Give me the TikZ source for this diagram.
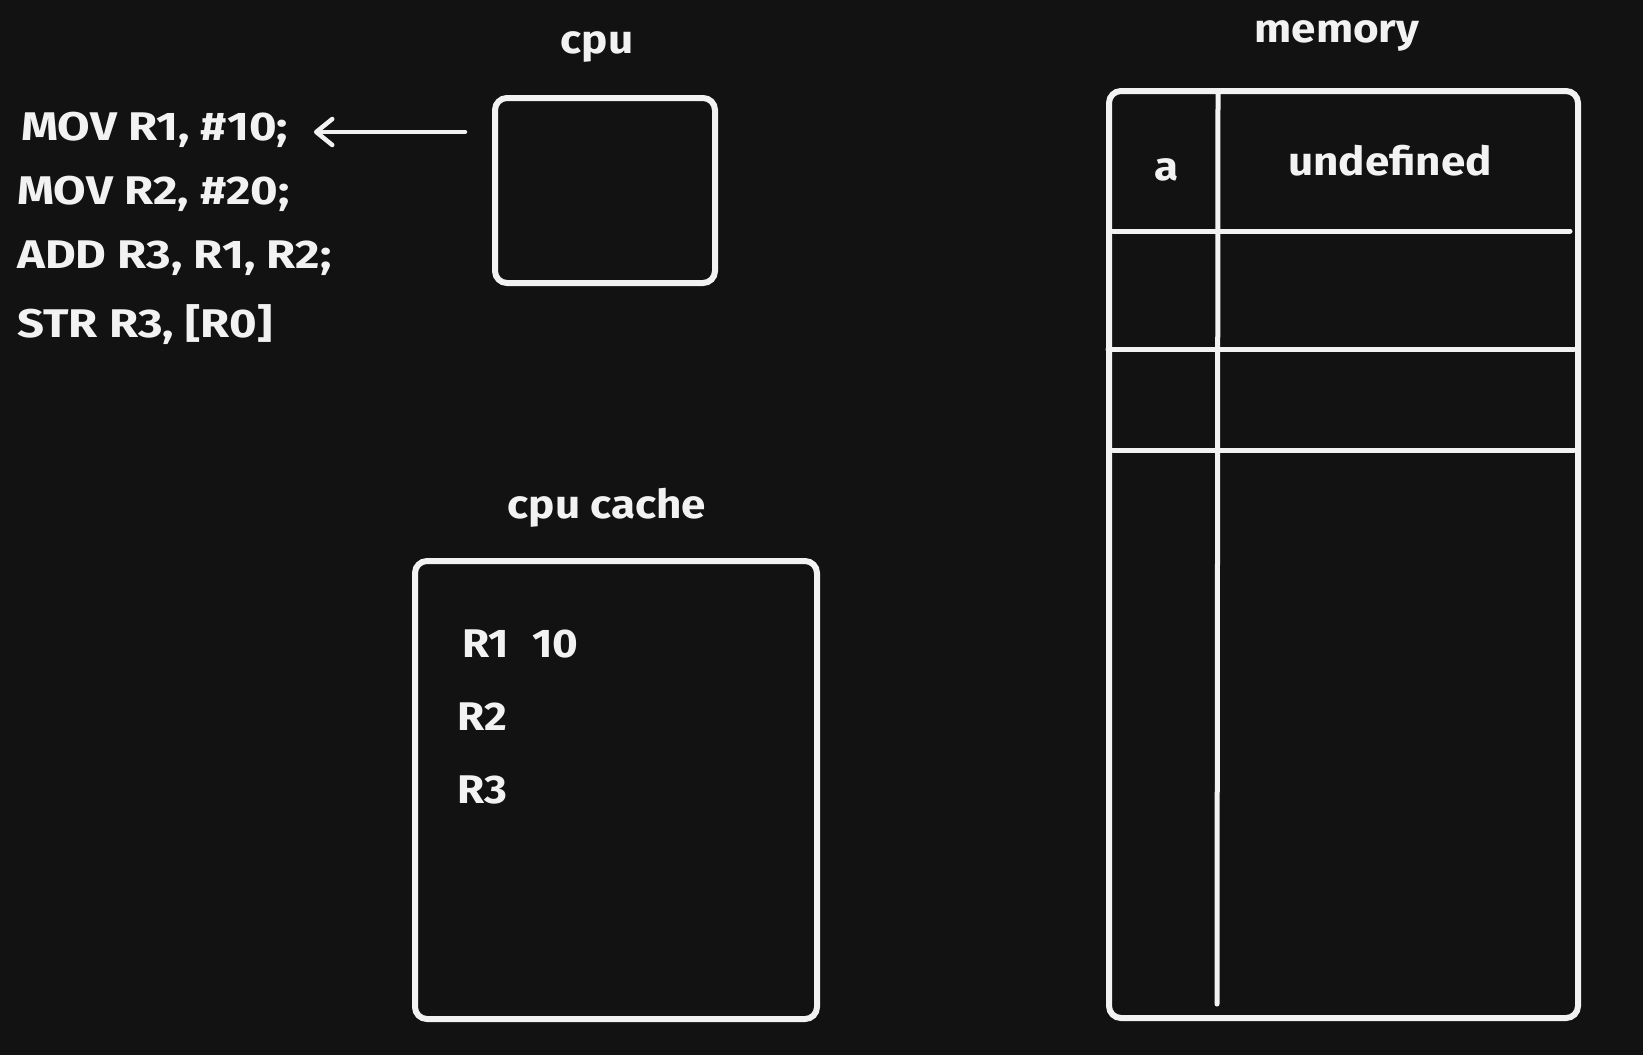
\documentclass[tikz,border=0pt]{standalone}
\usepackage{fontspec}
\setmainfont{Fira Sans}[FakeStretch=1.1]
\newfontfamily\codefont{Fira Sans}[FakeStretch=1.18]
\usetikzlibrary{arrows.meta}
\definecolor{bg}{HTML}{121212}
\definecolor{ink}{HTML}{F2F2F2}
\tikzset{
  box/.style={draw=ink, line width=6pt, rounded corners=12pt},
  grid/.style={draw=ink, line width=5pt, line cap=round},
  lbl/.style={text=ink, inner sep=0pt, font=\fontsize{40}{44}\selectfont\bfseries},
  code/.style={lbl, anchor=base west, font=\fontsize{40}{44}\selectfont\codefont\bfseries},
  conn/.style={draw=ink, line width=4.5pt, line cap=round,
    -{Straight Barb[length=16pt, width=26pt, line width=4.5pt, round]}}
}
\begin{document}
\begin{tikzpicture}[x=1pt, y=-1pt]
\useasboundingbox[fill=bg] (0,0) rectangle (1643,1055);
% cpu
\node[lbl, anchor=base] (cpulbl) at (597,53) {cpu};
\draw[box] (495,98) rectangle (715,283);
\node (cpu) at (605,190) {};
% code
\node[code] (l1) at (21,140) {MOV R1, \#10;};
\node[code] (l2) at (17,204) {MOV R2, \#20;};
\node[code] (l3) at (17,268) {ADD R3, R1, R2;};
\node[code] (l4) at (17,337) {STR R3, [R0]};
\coordinate (arrS) at (465,132);
\coordinate (arrE) at (314,132);
\draw[conn] (arrS) -- (arrE);
% cpu cache
\node[lbl, anchor=base] (cachelbl) at (607,518) {cpu cache};
\draw[box] (415,561) rectangle (817,1019);
\node[lbl, anchor=base west] (r1) at (462,657) {R1};
\node[lbl, anchor=base west] (v1) at (532,657) {10};
\node[lbl, anchor=base west] (r2) at (457,730) {R2};
\node[lbl, anchor=base west] (r3) at (457,803) {R3};
% memory
\node[lbl, anchor=base] (memlbl) at (1337,42) {memory};
\draw[box] (1109,91) rectangle (1578,1018);
\draw[grid] (1218,94) -- (1217,1004);
\draw[grid] (1113,231) -- (1570,231);
\draw[grid] (1108,349) -- (1574,349);
\draw[grid] (1113,450) -- (1574,450);
\node[lbl, anchor=base] (ma) at (1167,180) {a};
\node[lbl, anchor=base] (mu) at (1390,175) {undefined};
\end{tikzpicture}
\end{document}
